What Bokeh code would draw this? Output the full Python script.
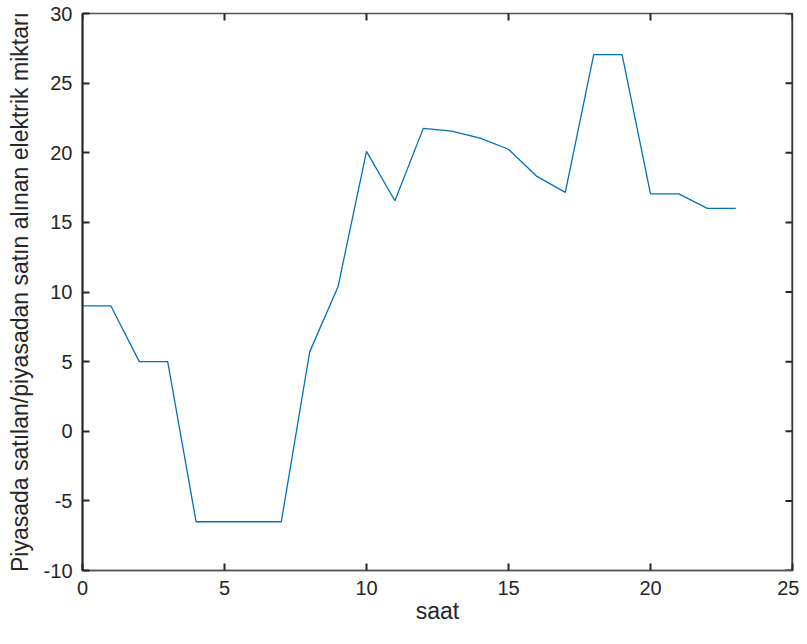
import math
from bokeh.plotting import figure
from bokeh.models import Range1d, FixedTicker, Span
from bokeh.embed import file_html
from bokeh.resources import INLINE

# data
saat = list(range(24))
miktar = [9.0, 9.0, 5.0, 5.0, -6.5, -6.5, -6.5, -6.5, 5.7, 10.4, 20.1, 16.55,
          21.75, 21.55, 21.05, 20.25, 18.3, 17.15, 27.05, 27.05, 17.05, 17.05, 16.0, 16.0]
x_ticks = [0, 5, 10, 15, 20, 25]
y_ticks = [-10, -5, 0, 5, 10, 15, 20, 25, 30]
x_label = "saat"
y_label = "Piyasada satılan/piyasadan satın alınan elektrik miktarı"

FONT = "Liberation Sans"
DARK = "#262626"

x0, x1 = x_ticks[0], x_ticks[-1]
y0, y1 = y_ticks[0], y_ticks[-1]

p = figure(width=799, height=628, output_backend="svg", toolbar_location=None,
           x_range=Range1d(x0, x1), y_range=Range1d(y0, y1),
           min_border_left=82, min_border_right=7, min_border_top=13, min_border_bottom=58)
p.outline_line_color = "#555555"
p.outline_line_width = 1.5
p.grid.visible = False
p.background_fill_color = "white"
p.border_fill_color = "white"

p.line(saat, miktar, line_color="#0072BD", line_width=1.3)

# box ticks on the top and right sides (half of each dash is clipped by the frame)
p.scatter(x=x_ticks, y=[y1] * len(x_ticks), marker="dash", angle=math.pi / 2, size=14,
          line_color=DARK, line_width=2)
p.scatter(x=[x1] * len(y_ticks), y=y_ticks, marker="dash", size=14,
          line_color=DARK, line_width=2)
p.add_layout(Span(location=x1, dimension="height", line_color=DARK, line_width=2))

def style(ax, ticks, line_color, line_width):
    ax.ticker = FixedTicker(ticks=ticks)
    ax.minor_tick_line_color = None
    ax.major_tick_in = 7
    ax.major_tick_out = 0
    ax.major_tick_line_color = DARK
    ax.major_tick_line_width = 2
    ax.axis_line_color = line_color
    ax.axis_line_width = line_width
    ax.major_label_text_font = FONT
    ax.major_label_text_font_size = "20px"
    ax.major_label_text_color = DARK
    ax.major_label_overrides = {t: str(t) for t in ticks}
    ax.axis_label_text_font = FONT
    ax.axis_label_text_font_size = "23px"
    ax.axis_label_text_font_style = "normal"
    ax.axis_label_text_color = DARK

xa = p.xaxis[0]
style(xa, x_ticks, "#555555", 1.5)
xa.axis_label = x_label
xa.major_label_standoff = 10
xa.axis_label_standoff = 0

ya = p.yaxis[0]
style(ya, y_ticks, DARK, 2)
ya.axis_label = y_label
ya.major_label_standoff = 10
ya.axis_label_standoff = 8

open("out.html", "w").write(file_html(p, INLINE))
